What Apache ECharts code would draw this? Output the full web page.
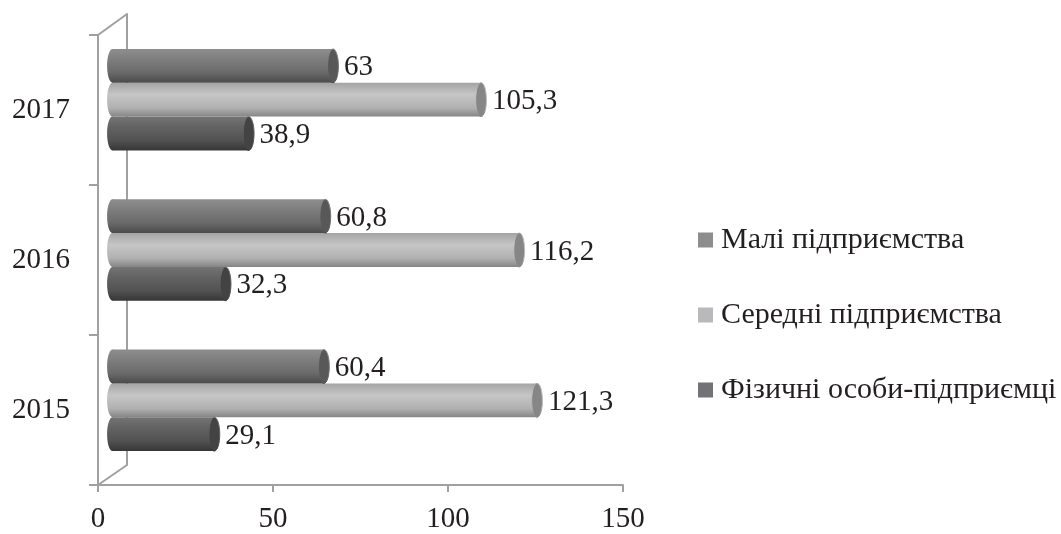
<!DOCTYPE html>
<html>
<head>
<meta charset="utf-8">
<script src="https://cdn.jsdelivr.net/npm/echarts@6/dist/echarts.min.js"></script>
<style>
html,body{margin:0;padding:0;background:#fff;}
#chart{width:1061px;height:534px;}
</style>
</head>
<body>
<div id="chart"></div>
<script>
const years = ['2015', '2016', '2017'];
const seriesNames = ['Малі підприємства', 'Середні підприємства', 'Фізичні особи-підприємці'];
const maliValues = [60.4, 60.8, 63];
const seredniValues = [121.3, 116.2, 105.3];
const fizychniValues = [29.1, 32.3, 38.9];
const xTicks = [0, 50, 100, 150];

const FONT = 'Liberation Serif';
const TXT = '#231f20';
const AX = '#a0a0a0';

// slot: -1 = top of group, 0 = middle, 1 = bottom
const styles = {
  'Малі підприємства': {slot: -1, swatch: '#8d8d90', cap: '#585858',
    stops: [[0, '#8e8e8e'], [0.3, '#7e7e7e'], [0.7, '#6a6a6a'], [1, '#4a4a4a']]},
  'Середні підприємства': {slot: 0, swatch: '#b9b9bc', cap: '#868686',
    stops: [[0, '#a4a4a4'], [0.35, '#c6c6c6'], [0.75, '#b0b0b0'], [1, '#858585']]},
  'Фізичні особи-підприємці': {slot: 1, swatch: '#737377', cap: '#434343',
    stops: [[0, '#747474'], [0.3, '#636363'], [0.7, '#525252'], [1, '#363636']]}
};

function grad(stops) {
  return new echarts.graphic.LinearGradient(0, 0, 0, 1,
    stops.map(s => ({offset: s[0], color: s[1]})));
}

function fmt(v) { return String(v).replace('.', ','); }

function makeSeries(name, values) {
  const st = styles[name];
  return {
    type: 'custom',
    name: name,
    xAxisIndex: 2,
    yAxisIndex: 2,
    itemStyle: {color: st.swatch},
    encode: {x: 0, y: 1},
    data: values.map((v, i) => [v, i]),
    renderItem: function (params, api) {
      const v = api.value(0), c = api.value(1);
      const end = api.coord([v, c]);
      const start = api.coord([0, c]);
      const band = api.size([0, 1])[1];
      const h = band * 0.225;
      const cy = end[1] + st.slot * h;
      const rx = h * 0.16;
      return {
        type: 'group',
        children: [
          {type: 'ellipse', shape: {cx: start[0], cy: cy, rx: rx, ry: h / 2},
            style: {fill: grad(st.stops)}},
          {type: 'rect', shape: {x: start[0], y: cy - h / 2, width: end[0] - start[0], height: h},
            style: {fill: grad(st.stops)}},
          {type: 'ellipse', shape: {cx: end[0], cy: cy, rx: rx, ry: h / 2},
            style: {fill: st.cap, stroke: grad(st.stops), lineWidth: 1},
            textContent: {style: {text: fmt(v), fill: TXT, font: '29px "' + FONT + '"'}},
            textConfig: {position: 'right', distance: 5, offset: [0, 2]}}
        ]
      };
    }
  };
}

const chart = echarts.init(document.getElementById('chart'));
const option = {
  backgroundColor: '#fff',
  animation: false,
  textStyle: {fontFamily: FONT},
  grid: [
    {left: 98, right: 438, top: 35, bottom: 48},
    {left: 127, right: 409, top: 14, bottom: 69},
    {left: 112.5, right: 423.5, top: 24.5, bottom: 58.5}
  ],
  xAxis: [
    {gridIndex: 0, type: 'value', min: xTicks[0], max: xTicks[xTicks.length - 1], interval: 50,
      axisLine: {show: true, lineStyle: {color: AX, width: 2}},
      axisTick: {show: true, length: 7, lineStyle: {color: AX, width: 2}},
      splitLine: {show: false},
      axisLabel: {color: TXT, fontSize: 29, fontFamily: FONT, margin: 20}},
    {gridIndex: 1, type: 'value', min: 0, max: 150, show: false},
    {gridIndex: 2, type: 'value', min: 0, max: 150, show: false}
  ],
  yAxis: [
    {gridIndex: 0, type: 'category', data: years,
      axisLine: {show: true, lineStyle: {color: AX, width: 2}},
      axisTick: {show: true, length: 9, lineStyle: {color: AX, width: 2}},
      axisLabel: {color: TXT, fontSize: 29, fontFamily: FONT, margin: 28, padding: [4, 0, 0, 0]}},
    {gridIndex: 1, type: 'category', data: years,
      axisLine: {show: true, lineStyle: {color: AX, width: 2}},
      axisTick: {show: false}, axisLabel: {show: false}},
    {gridIndex: 2, type: 'category', data: years, show: false}
  ],
  legend: {
    orient: 'vertical',
    left: 693,
    top: 220,
    itemWidth: 15,
    itemHeight: 15,
    itemGap: 45,
    icon: 'rect',
    data: seriesNames,
    textStyle: {color: TXT, fontSize: 30, fontFamily: FONT, lineHeight: 28, padding: [0, 0, 0, 3]}
  },
  series: [
    makeSeries(seriesNames[2], fizychniValues),
    makeSeries(seriesNames[1], seredniValues),
    makeSeries(seriesNames[0], maliValues)
  ]
};
chart.setOption(option);

// 3D wall edges connecting front axis corners to back wall corners
const g0 = chart.getModel().getComponent('grid', 0).coordinateSystem.getRect();
const g1 = chart.getModel().getComponent('grid', 1).coordinateSystem.getRect();
chart.setOption({
  graphic: [
    {type: 'line', shape: {x1: g0.x, y1: g0.y, x2: g1.x, y2: g1.y},
      style: {stroke: AX, lineWidth: 2}, z: 0},
    {type: 'line', shape: {x1: g0.x, y1: g0.y + g0.height, x2: g1.x, y2: g1.y + g1.height},
      style: {stroke: AX, lineWidth: 2}, z: 0}
  ]
});
</script>
</body>
</html>
